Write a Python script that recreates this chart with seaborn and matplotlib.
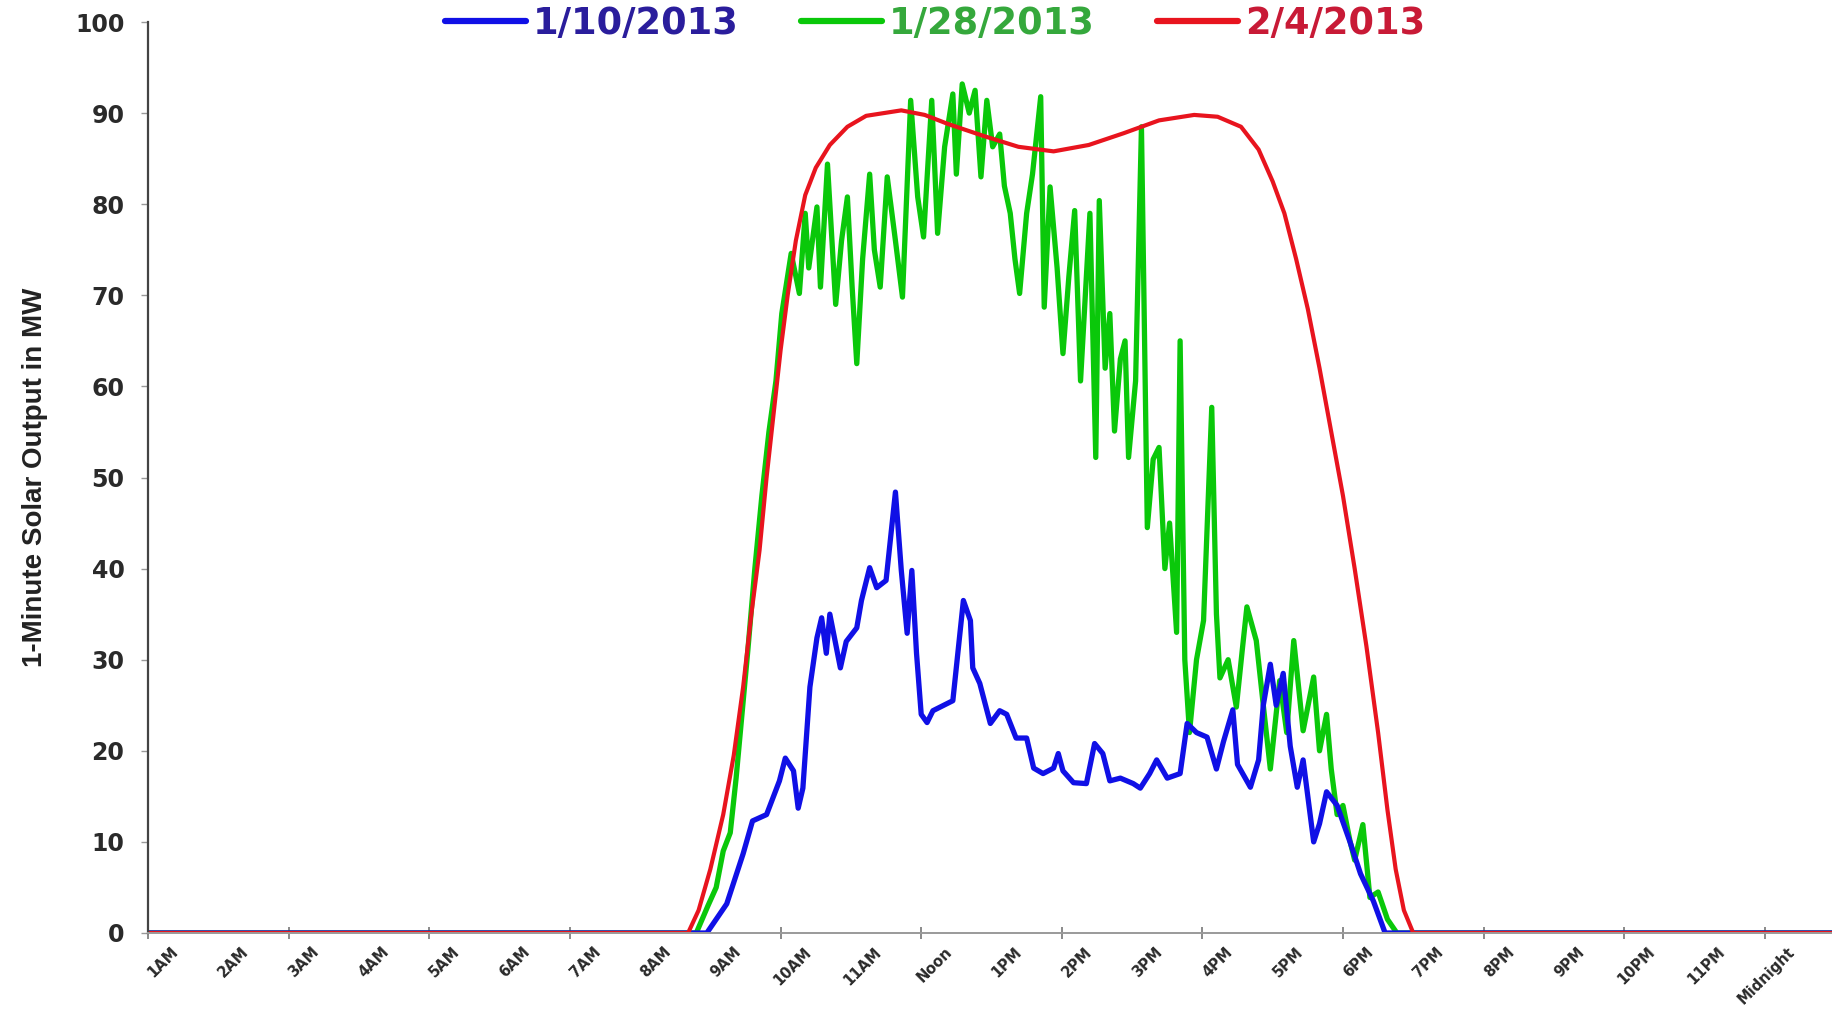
import matplotlib
matplotlib.use("Agg")
import matplotlib.pyplot as plt
from matplotlib.lines import Line2D
import seaborn as sns

sns.set_theme(style="white")
plt.rcParams["font.family"] = ["DejaVu Sans"]

# Hour-of-day category labels (each label sits in the middle of its hour)
hour_labels = ["1AM", "2AM", "3AM", "4AM", "5AM", "6AM", "7AM", "8AM", "9AM",
               "10AM", "11AM", "Noon", "1PM", "2PM", "3PM", "4PM", "5PM", "6PM",
               "7PM", "8PM", "9PM", "10PM", "11PM", "Midnight"]
tick_hours = [0, 2, 4, 6, 9, 11, 13, 15, 17, 19, 21, 23]
y_ticks = [0, 10, 20, 30, 40, 50, 60, 70, 80, 90, 100]

# 1/10/2013 - minute of day and output (MW)
jan10_min = [0, 477, 494, 508, 516, 528, 539, 544, 551, 555, 559, 565, 571, 575,
             579, 582, 591, 596, 605, 609, 616, 622, 630, 638, 643, 648, 652, 656,
             660, 665, 670, 687, 696, 702, 704, 710, 719, 727, 733, 741, 750, 756,
             764, 773, 777, 781, 790, 801, 808, 815, 821, 830, 841, 847, 855, 861,
             870, 881, 887, 895, 904, 912, 918, 926, 930, 941, 948, 952, 958, 963,
             969, 975, 981, 986, 995, 1000, 1006, 1015, 1026, 1035, 1046, 1056, 1440]
jan10_mw = [0, 0, 3.2, 8.7, 12.3, 13, 16.7, 19.2, 17.8, 13.7, 15.9, 27, 32.4, 34.6,
            30.7, 35, 29.1, 32, 33.5, 36.5, 40.1, 37.9, 38.7, 48.4, 39.8, 32.9, 39.8, 30.7,
            24, 23.1, 24.4, 25.5, 36.5, 34.3, 29.1, 27.4, 23, 24.4, 24, 21.4, 21.4, 18.1,
            17.5, 18.1, 19.7, 17.8, 16.5, 16.4, 20.8, 19.7, 16.7, 17, 16.4, 15.9, 17.5, 19,
            17, 17.5, 23, 22, 21.5, 18, 21, 24.5, 18.5, 16, 19, 25, 29.5, 25,
            28.5, 20.5, 16, 19, 10, 12, 15.5, 14, 10, 6.5, 3.5, 0, 0]

# 1/28/2013
jan28_min = [0, 468, 478, 485, 491, 497, 502, 507, 512, 518, 524, 530, 536, 541,
             549, 556, 561, 564, 571, 574, 580, 587, 592, 597, 601, 605, 610, 616,
             620, 625, 631, 638, 644, 651, 657, 662, 669, 674, 680, 687, 690, 695,
             701, 706, 711, 716, 721, 727, 731, 736, 740, 744, 750, 755, 762, 765,
             770, 776, 781, 786, 791, 796, 804, 809, 812, 817, 821, 825, 830, 834,
             837, 843, 848, 853, 858, 863, 868, 872, 878, 881, 885, 889, 895, 901,
             908, 912, 915, 922, 929, 934, 938, 946, 952, 958, 966, 972, 978, 986,
             995, 1000, 1006, 1010, 1015, 1020, 1026, 1030, 1037, 1043, 1050, 1058,
             1066, 1440]
jan28_mw = [0, 0, 3, 5, 9, 11, 17, 24, 31, 40, 48, 55, 60.6, 68,
            74.6, 70.2, 79, 73, 79.7, 70.9, 84.4, 69, 76, 80.8, 71, 62.5, 74, 83.3,
            75, 70.9, 83, 76, 69.8, 91.4, 80.8, 76.4, 91.4, 76.8, 86.3, 92.1, 83.3, 93.2,
            90, 92.5, 83, 91.4, 86.3, 87.7, 82, 79, 74, 70.2, 79, 83.3, 91.8, 68.7,
            81.9, 73, 63.6, 72, 79.3, 60.6, 79, 52.2, 80.4, 62, 68, 55.1, 63, 65,
            52.2, 60.6, 88.5, 44.5, 52, 53.3, 40, 45, 33, 65, 30, 22, 30, 34.3,
            57.7, 35, 28, 30, 24.8, 31, 35.8, 32.1, 25, 18, 27.7, 22, 32.1, 22.2,
            28.1, 20, 24, 18, 13, 14, 10.1, 8, 11.9, 3.9, 4.5, 1.5,
            0, 0]

# 2/4/2013
feb4_min = [0, 461, 470, 480, 491, 500, 508, 515, 522, 528, 534, 540, 546, 553,
            561, 570, 582, 597, 613, 628, 643, 663, 683, 713, 743, 773, 803, 833,
            863, 893, 913, 933, 948, 960, 970, 980, 990, 1000, 1010, 1020, 1030, 1040,
            1050, 1058, 1065, 1072, 1080, 1440]
feb4_mw = [0, 0, 2.5, 7, 13, 19.5, 27, 35, 42, 50, 57, 64, 70, 76,
           81, 84, 86.5, 88.5, 89.7, 90, 90.3, 89.8, 88.8, 87.5, 86.3, 85.8, 86.5, 87.8,
           89.2, 89.8, 89.6, 88.5, 86, 82.5, 79, 74, 68.5, 62, 55, 48, 40, 31.5,
           22, 13.5, 7, 2.5, 0, 0]

series_names = ["1/10/2013", "1/28/2013", "2/4/2013"]
line_colors = ["#1010e6", "#0ac80a", "#e8141e"]
text_colors = ["#2a1d9c", "#35a83c", "#c81a36"]

W, H = 1833, 1010
fig = plt.figure(figsize=(W / 100, H / 100), dpi=100)
fig.patch.set_facecolor("white")
ax = fig.add_axes([148 / W, 77 / H, 1687 / W, 911 / H])

# Draw order: 1/28 underneath, then 1/10, 2/4 on top
sns.lineplot(x=jan28_min, y=jan28_mw, ax=ax, color=line_colors[1], lw=3.8,
             estimator=None, sort=False, legend=False)
sns.lineplot(x=jan10_min, y=jan10_mw, ax=ax, color=line_colors[0], lw=3.8,
             estimator=None, sort=False, legend=False)
sns.lineplot(x=feb4_min, y=feb4_mw, ax=ax, color=line_colors[2], lw=3.0,
             estimator=None, sort=False, legend=False)

ax.set_xlim(0, 1440)
ax.set_ylim(0, 100)

for side in ("top", "right"):
    ax.spines[side].set_visible(False)
ax.spines["left"].set_color("#444444")
ax.spines["left"].set_linewidth(1.6)
ax.spines["bottom"].set_color("#9a9a9a")
ax.spines["bottom"].set_linewidth(1.4)

# x axis: tick marks every two hours, hour labels near the middle of each hour
ax.set_xticks([h * 60 for h in tick_hours])
ax.set_xticklabels([""] * len(tick_hours))
ax.tick_params(axis="x", which="major", direction="inout", length=8,
               width=1.2, color="#777777", bottom=True)
ax.set_xticks([(k + 0.5) * 60 - 6 for k in range(len(hour_labels))], minor=True)
ax.set_xticklabels(hour_labels, minor=True, rotation=45, ha="right",
                   va="center", rotation_mode="anchor",
                   fontsize=10.5, fontweight="bold", color="#2a2a2a")
ax.tick_params(axis="x", which="minor", length=0, pad=12, bottom=True)

# y axis
ax.set_yticks(y_ticks)
ax.set_yticklabels([str(v) for v in y_ticks], fontsize=17,
                   fontweight="bold", color="#2a2a2a")
ax.tick_params(axis="y", direction="out", length=5, width=1.0,
               color="#999999", pad=12, left=True)
ax.set_ylabel("1-Minute Solar Output in MW", fontsize=20, fontweight="bold",
              family=["Liberation Sans", "DejaVu Sans"], color="#222222")
ax.yaxis.set_label_coords(-0.059, 0.5)

handles = [Line2D([], [], color=c, lw=4.5) for c in line_colors]
leg = fig.legend(handles, series_names, loc="center",
                 bbox_to_anchor=(935 / W, 1 - 23 / H), ncol=3, frameon=False,
                 prop={"weight": "bold", "size": 26.5}, handlelength=2.2,
                 handletextpad=0.18, columnspacing=1.7, borderaxespad=0)
for txt, c in zip(leg.get_texts(), text_colors):
    txt.set_color(c)

fig.savefig("out.png", dpi=100, facecolor="white")
